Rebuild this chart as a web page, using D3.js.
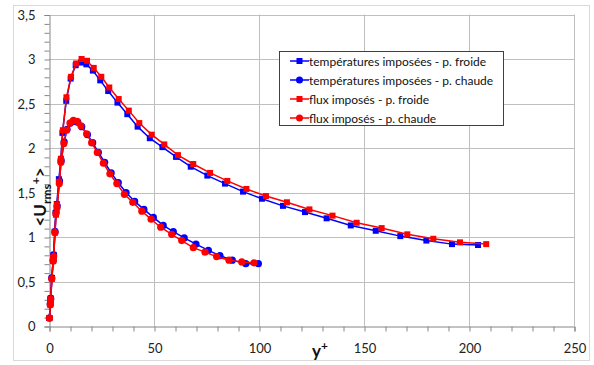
<!DOCTYPE html>
<html><head><meta charset="utf-8">
<script src="https://cdn.jsdelivr.net/npm/d3@7"></script>
<style>body{margin:0;background:#fff}svg{display:block}text{font-family:Lato,"Open Sans","Liberation Sans",sans-serif}</style>
</head><body><svg id="c" width="594" height="365"></svg>
<script>
const seriesNames = ["températures imposées - p. froide","températures imposées - p. chaude","flux imposés - p. froide","flux imposés - p. chaude"];
const seriesColors = ["#0000ff","#0000ff","#ff0000","#ff0000"];
const seriesMarkers = ["square","circle","square","circle"];
const tempFroide = [[0.2,0.09],[0.6,0.25],[0.8,0.31],[1.4,0.54],[1.9,0.73],[2.2,0.8],[2.7,1.06],[3.2,1.27],[3.7,1.37],[4.7,1.65],[5.6,1.86],[6.4,2.17],[8.2,2.53],[10.3,2.78],[12.7,2.93],[15.2,2.96],[17.8,2.94],[20.9,2.87],[24.4,2.76],[28.2,2.64],[32.6,2.51],[37.3,2.38],[42.2,2.24],[48,2.11],[54,2.01],[60.5,1.90],[67.5,1.79],[75.4,1.69],[83.8,1.60],[92.4,1.51],[101.4,1.43],[111.4,1.35],[121.9,1.28],[132.2,1.21],[143.7,1.13],[155.6,1.07],[167.3,1.01],[179.7,0.96],[191.9,0.92],[204.3,0.91]];
const tempChaude = [[0.2,0.09],[0.6,0.25],[0.8,0.31],[1.3,0.54],[2.0,0.74],[2.2,0.8],[2.9,1.06],[3.4,1.28],[3.9,1.35],[5.0,1.63],[5.8,1.86],[7.2,2.07],[8.6,2.21],[10.2,2.28],[11.9,2.30],[13.7,2.29],[15.6,2.24],[18.3,2.15],[20.8,2.06],[23.5,1.95],[26.5,1.84],[29.6,1.72],[33,1.61],[36.7,1.50],[40.8,1.40],[45.2,1.31],[49.7,1.22],[54.4,1.13],[59.2,1.06],[64.4,0.99],[70,0.92],[75.9,0.85],[81.4,0.79],[87.3,0.74],[93.7,0.70],[99.7,0.70]];
const fluxFroide = [[0.2,0.09],[0.6,0.24],[0.8,0.30],[1.4,0.53],[2.0,0.73],[2.2,0.78],[2.8,1.05],[3.3,1.25],[3.8,1.36],[4.8,1.62],[5.7,1.88],[6.6,2.2],[8.3,2.57],[10.5,2.80],[12.9,2.95],[15.5,3.0],[18.1,2.98],[21.3,2.90],[24.9,2.80],[28.7,2.68],[33.2,2.55],[38,2.42],[43,2.28],[48.9,2.15],[54.9,2.04],[61.4,1.92],[68.7,1.82],[76.7,1.72],[84.9,1.63],[94,1.54],[103.3,1.46],[113.3,1.39],[124,1.31],[135,1.24],[146.5,1.16],[158.4,1.10],[170.6,1.03],[183,0.98],[195.7,0.94],[208.2,0.92]];
const fluxChaude = [[0.2,0.09],[0.6,0.24],[0.8,0.30],[1.3,0.53],[2.0,0.73],[2.2,0.78],[2.9,1.05],[3.3,1.26],[3.8,1.33],[4.9,1.60],[5.7,1.84],[7.1,2.05],[8.4,2.20],[10.0,2.28],[11.6,2.31],[13.4,2.30],[15.2,2.25],[17.9,2.16],[20.3,2.06],[23,1.95],[25.9,1.83],[29,1.71],[32.3,1.60],[35.9,1.48],[39.9,1.39],[44.2,1.29],[48.6,1.20],[53.2,1.11],[58.4,1.03],[63.2,0.96],[68.7,0.88],[74.3,0.83],[79.8,0.78],[85.7,0.74],[91.8,0.72],[97.6,0.71]];
const xTicks = [0,50,100,150,200,250];
const yTicks = [0,0.5,1,1.5,2,2.5,3,3.5];
const allSeries = [tempFroide,tempChaude,fluxFroide,fluxChaude];

const svg = d3.select("#c");
const L=49,R=574,T=14.5,B=326;
const x = d3.scaleLinear().domain([0,250]).range([L,R]);
const y = d3.scaleLinear().domain([0,3.5]).range([B,T]);
const fmt = v => String(v).replace(".",",");

svg.append("rect").attr("x",13.5).attr("y",5.5).attr("width",576).attr("height",355).attr("fill","#fff").attr("stroke","#d9d9d9");

// gridlines
svg.append("g").selectAll("line").data(yTicks.slice(1)).join("line")
  .attr("x1",L).attr("x2",R).attr("y1",d=>Math.round(y(d))+0.5).attr("y2",d=>Math.round(y(d))+0.5)
  .attr("stroke","#bfbfbf");
svg.append("g").selectAll("line").data(xTicks.slice(1)).join("line")
  .attr("y1",T).attr("y2",B).attr("x1",d=>Math.round(x(d))+0.5).attr("x2",d=>Math.round(x(d))+0.5)
  .attr("stroke","#bfbfbf");

// axes
const yAxis = d3.axisLeft(y).tickValues(d3.range(0,36).map(i=>i/10)).tickSize(5).tickFormat(d=>yTicks.includes(d)?fmt(d):"");
const gy = svg.append("g").attr("transform",`translate(${L+0.5},0.5)`).call(yAxis);
const xAxis = d3.axisBottom(x).tickValues(d3.range(0,26).map(i=>i*10)).tickSize(5).tickFormat(d=>xTicks.includes(d)?fmt(d):"");
const gx = svg.append("g").attr("transform",`translate(0.5,${Math.round(B)+0.5})`).call(xAxis);
[gx,gy].forEach(g=>{g.select(".domain").attr("stroke","#868686");g.selectAll(".tick line").attr("stroke","#868686");
  g.selectAll("text").attr("font-size",13).attr("fill","#222");});
gy.selectAll("text").attr("x",-14);
gx.selectAll("text").attr("y",17);

// series
const line = d3.line().x(d=>x(d[0])).y(d=>y(d[1]));
allSeries.forEach((data,i)=>{
  const g = svg.append("g");
  g.append("path").datum(data).attr("d",line).attr("fill","none").attr("stroke",seriesColors[i]).attr("stroke-width",1.5);
  if(seriesMarkers[i]==="square"){
    g.selectAll("rect").data(data).join("rect").attr("x",d=>x(d[0])-3).attr("y",d=>y(d[1])-3).attr("width",6).attr("height",6).attr("fill",seriesColors[i]);
  } else {
    g.selectAll("circle").data(data).join("circle").attr("cx",d=>x(d[0])).attr("cy",d=>y(d[1])).attr("r",3.6).attr("fill",seriesColors[i]);
  }
});

// axis titles
const xt = svg.append("text").attr("x",312).attr("y",357).attr("font-size",17).attr("font-weight","bold").attr("fill","#111");
xt.append("tspan").text("y");
xt.append("tspan").attr("dy",-7).attr("font-size",12).text("+");
const yt = svg.append("text").attr("transform","translate(46,197) rotate(-90)").attr("text-anchor","middle").attr("font-size",17).attr("font-weight","bold").attr("fill","#111");
yt.append("tspan").text("<U");
yt.append("tspan").attr("dy",5).attr("font-size",12).text("rms");
yt.append("tspan").attr("dy",-11).attr("font-size",12).text("+");
yt.append("tspan").attr("dy",6).text(">");

// legend
const lg = svg.append("g");
lg.append("rect").attr("x",279.5).attr("y",51.5).attr("width",224).attr("height",74).attr("fill","#fff").attr("stroke","#404040");
seriesNames.forEach((n,i)=>{
  const cy = 61+i*19;
  lg.append("line").attr("x1",290).attr("x2",309).attr("y1",cy).attr("y2",cy).attr("stroke",seriesColors[i]).attr("stroke-width",1.5);
  if(seriesMarkers[i]==="square") lg.append("rect").attr("x",296.5).attr("y",cy-3).attr("width",6).attr("height",6).attr("fill",seriesColors[i]);
  else lg.append("circle").attr("cx",299.5).attr("cy",cy).attr("r",3.5).attr("fill",seriesColors[i]);
  lg.append("text").attr("x",309).attr("y",cy+4.5).attr("font-size",12).attr("fill","#111").text(n);
});
</script></body></html>
